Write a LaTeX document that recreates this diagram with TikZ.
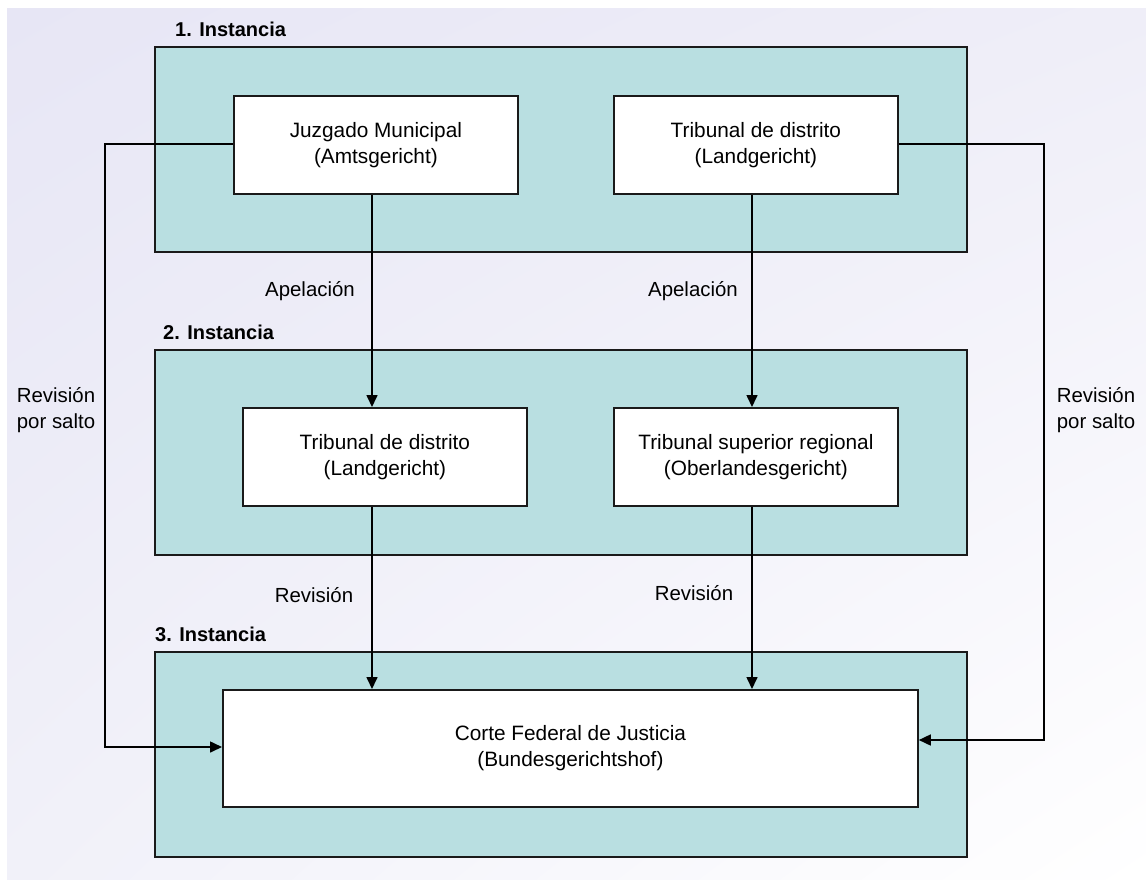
\documentclass[tikz,border=0pt]{standalone}
\usepackage{fontspec}
\setmainfont{Liberation Sans}
\usetikzlibrary{arrows.meta,shadings}
\definecolor{lavA}{HTML}{E7E6F5}
\definecolor{lavB}{HTML}{EFEEF8}
\definecolor{lavC}{HTML}{F1F1F9}
\definecolor{tealfill}{HTML}{B9DFE1}
\definecolor{linegray}{HTML}{1A1A1A}
\tikzset{
  inst/.style={draw=linegray, line width=1.8pt, fill=tealfill, inner sep=0pt, minimum width=812pt, minimum height=205pt, anchor=north west},
  court/.style={draw=linegray, line width=1.8pt, fill=white, inner sep=0pt, minimum width=284pt, minimum height=98pt, anchor=north west, align=center, font=\fontsize{20.8}{26}\selectfont},
  title/.style={font=\fontsize{20}{24}\selectfont\bfseries, anchor=base west, inner sep=0pt},
  lbl/.style={font=\fontsize{20.4}{26}\selectfont, inner sep=0pt, align=left},
  conn/.style={draw=black, line width=1.6pt, -{Triangle[length=12pt,width=11pt]}},
}
\begin{document}
\begin{tikzpicture}[x=1pt,y=-1pt]
\useasboundingbox (0,0) rectangle (1146,879);
\shade[upper left=lavA, upper right=lavB, lower left=lavC, lower right=white] (7,8) rectangle (1146,879);
% instance frames
\node[inst] (i1) at (154,46) {};
\node[inst] (i2) at (154,349) {};
\node[inst] (i3) at (154,651) {};
\node[title] (t1) at (175,36) {1. Instancia};
\node[title] (t2) at (163,339) {2. Instancia};
\node[title] (t3) at (155,641) {3. Instancia};
% courts
\node[court] (jm) at (233,95) {Juzgado Municipal\\(Amtsgericht)};
\node[court] (td1) at (613,95) {Tribunal de distrito\\(Landgericht)};
\node[court] (td2) at (242,407) {Tribunal de distrito\\(Landgericht)};
\node[court] (tsr) at (613,407) {Tribunal superior regional\\(Oberlandesgericht)};
\node[court, minimum width=695pt, minimum height=117pt] (cfj) at (222,689) {Corte Federal de Justicia\\(Bundesgerichtshof)};
% helper coordinates
\coordinate (lx1) at (105,144);
\coordinate (lx2) at (105,747);
\coordinate (rx1) at (1044,144);
\coordinate (rx2) at (1044,740);
% connectors
\draw[conn] (jm.south -| 372,0) -- (td2.north -| 372,0);
\draw[conn] (td1.south -| 752,0) -- (tsr.north -| 752,0);
\draw[conn] (td2.south -| 372,0) -- (cfj.north -| 372,0);
\draw[conn] (tsr.south -| 752,0) -- (cfj.north -| 752,0);
\draw[conn] (jm.west |- lx1) -- (lx1) -- (lx2) -- (cfj.west |- lx2);
\draw[conn] (td1.east |- rx1) -- (rx1) -- (rx2) -- (cfj.east |- rx2);
% labels
\node[lbl] (a1) at (310,291) {Apelación};
\node[lbl] (a2) at (693,291) {Apelación};
\node[lbl] (r1) at (314,595) {Revisión};
\node[lbl] (r2) at (694,593) {Revisión};
\node[lbl] (s1) at (56,410) {Revisión\\por salto};
\node[lbl] (s2) at (1096,410) {Revisión\\por salto};
\end{tikzpicture}
\end{document}
